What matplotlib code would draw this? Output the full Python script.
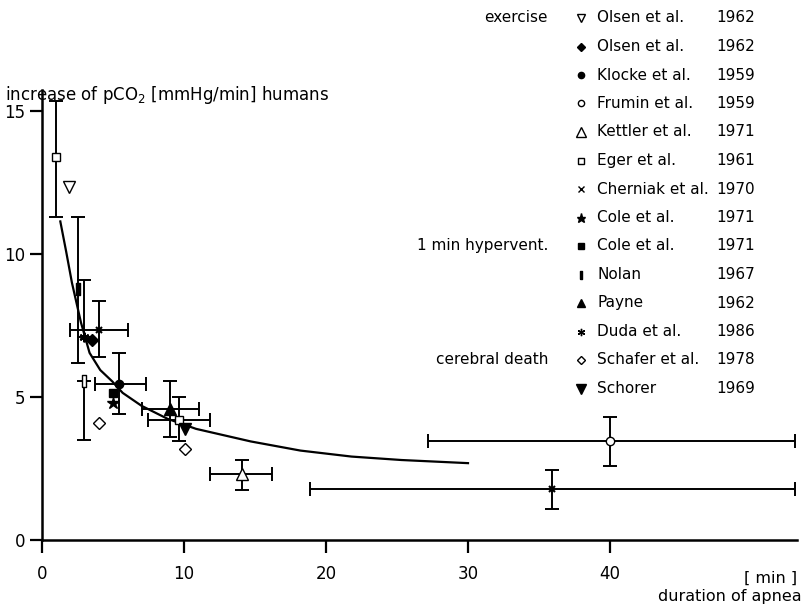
import numpy as np
import matplotlib

matplotlib.use("Agg")
import matplotlib.pyplot as plt
from matplotlib.lines import Line2D

plt.rcParams["font.family"] = ["DejaVu Sans"]

# Data (duration of apnea [min], increase of pCO2 [mmHg/min])
study = ["eger", "olsen_ex", "nolan", "duda", "olsen", "cherniak", "nolan_open",
         "schafer", "klocke", "cole_sq", "cole_star", "payne", "eger", "schorer",
         "schafer", "kettler", "frumin", "cherniak"]
px = [1.0, 1.9, 2.5, 2.95, 3.55, 4.0, 2.95, 4.0, 5.45, 5.0, 5.0, 9.0, 9.65,
      10.1, 10.05, 14.1, 40.0, 35.9]
py = [13.4, 12.35, 8.8, 7.1, 7.0, 7.35, 5.55, 4.1, 5.47, 5.15, 4.78, 4.57, 4.2,
      3.9, 3.2, 2.3, 3.45, 1.78]
# error bar ends (NaN = none)
y_lo = [11.3, np.nan, 6.2, 7.1, np.nan, 6.4, 3.5, np.nan, 4.4, np.nan, np.nan,
        3.6, 3.45, np.nan, np.nan, 1.75, 2.6, 1.1]
y_hi = [15.35, np.nan, 11.3, 9.1, np.nan, 8.35, 5.55, np.nan, 6.55, np.nan,
        np.nan, 5.55, 5.0, np.nan, np.nan, 2.8, 4.3, 2.45]
x_lo = [np.nan, np.nan, np.nan, np.nan, np.nan, 2.0, np.nan, np.nan, 3.7, np.nan,
        np.nan, 7.05, 7.45, np.nan, np.nan, 11.85, 27.2, 18.9]
x_hi = [np.nan, np.nan, np.nan, np.nan, np.nan, 6.05, np.nan, np.nan, 7.3, np.nan,
        np.nan, 11.05, 11.85, np.nan, np.nan, 16.2, 53.0, 53.0]

# fitted curve, read as points
curve_x = [1.29, 1.7, 2.11, 2.75, 3.35, 4.1, 4.95, 5.68, 7.0, 8.85, 10.85, 14.7,
           18.2, 21.8, 25.3, 30.0]
curve_y = [11.15, 10.1, 9.0, 7.6, 6.55, 5.95, 5.55, 5.15, 4.7, 4.24, 3.89, 3.45,
           3.13, 2.92, 2.8, 2.69]

# legend
leg_keys = ["olsen_ex", "olsen", "klocke", "frumin", "kettler", "eger",
            "cherniak", "cole_star", "cole_sq", "nolan", "payne", "duda",
            "schafer", "schorer"]
leg_names = ["Olsen et al.", "Olsen et al.", "Klocke et al.", "Frumin et al.",
             "Kettler et al.", "Eger et al.", "Cherniak et al.", "Cole et al.",
             "Cole et al.", "Nolan", "Payne", "Duda et al.", "Schafer et al.",
             "Schorer"]
leg_years = ["1962", "1962", "1959", "1959", "1971", "1961", "1970", "1971",
             "1971", "1967", "1962", "1986", "1978", "1969"]
leg_groups = {0: "exercise", 8: "1 min hypervent.", 12: "cerebral death"}

thin_rect = [(-0.35, -1), (0.35, -1), (0.35, 1), (-0.35, 1), (-0.35, -1)]
styles = {
    "olsen_ex": dict(marker="v", mfc="white", ms=8),
    "olsen": dict(marker="D", mfc="black", ms=6),
    "klocke": dict(marker="o", mfc="black", ms=6),
    "frumin": dict(marker="o", mfc="white", ms=6),
    "kettler": dict(marker="^", mfc="white", ms=9),
    "eger": dict(marker="s", mfc="white", ms=6),
    "cherniak": dict(marker="x", mfc="black", ms=5),
    "cole_star": dict(marker="*", mfc="black", ms=9),
    "cole_sq": dict(marker="s", mfc="black", ms=6),
    "nolan": dict(marker=thin_rect, mfc="black", ms=8),
    "nolan_open": dict(marker=thin_rect, mfc="white", ms=8),
    "payne": dict(marker="^", mfc="black", ms=8),
    "duda": dict(marker=(6, 2, 0), mfc="black", ms=7),
    "schafer": dict(marker="D", mfc="white", ms=6),
    "schorer": dict(marker="v", mfc="black", ms=9),
}

W, H = 805, 605
fig = plt.figure(figsize=(W / 100, H / 100), dpi=100)
x0, y0 = 42, 540
xs, ys = 14.2, 28.57
xmax, ymax = 53.2, 15.75
ax = fig.add_axes([x0 / W, 1 - y0 / H, xmax * xs / W, ymax * ys / H])
ax.set_xlim(0, xmax)
ax.set_ylim(0, ymax)

for s in ["top", "right"]:
    ax.spines[s].set_visible(False)
for s in ["left", "bottom"]:
    ax.spines[s].set_linewidth(1.8)
ax.set_xticks([0, 10, 20, 30, 40])
ax.set_yticks([0, 5, 10, 15])
ax.tick_params(direction="out", length=9, width=1.6, labelsize=12)
ax.tick_params(axis="x", pad=9)
ax.tick_params(axis="y", pad=3)

ax.plot(curve_x, curve_y, color="black", lw=1.6, zorder=1)

for i, k in enumerate(study):
    st = styles[k]
    lw = 1.5 if k in ("cherniak", "duda") else 1.0
    xe = None
    ye = None
    if not np.isnan(x_lo[i]):
        xe = [[px[i] - x_lo[i]], [x_hi[i] - px[i]]]
    if not np.isnan(y_lo[i]):
        ye = [[py[i] - y_lo[i]], [y_hi[i] - py[i]]]
    ax.errorbar(px[i], py[i], xerr=xe, yerr=ye, fmt="none", ecolor="black",
                elinewidth=1.4, capsize=5, capthick=1.4, zorder=2)
    ax.plot(px[i], py[i], linestyle="none", marker=st["marker"],
            markerfacecolor=st["mfc"], markeredgecolor="black", markersize=st["ms"],
            markeredgewidth=lw, zorder=3, clip_on=False)

# legend drawn as text
fs = 11
for i, k in enumerate(leg_keys):
    yy = 1 - (18 + 28.5 * i) / H
    st = styles[k]
    fig.add_artist(Line2D([581 / W], [yy], linestyle="none", marker=st["marker"],
                          markerfacecolor=st["mfc"], markeredgecolor="black",
                          markersize=st["ms"] * 0.75, markeredgewidth=1.0))
    fig.text(597 / W, yy, leg_names[i], fontsize=fs, va="center", ha="left")
    fig.text(716 / W, yy, leg_years[i], fontsize=fs, va="center", ha="left")
    if i in leg_groups:
        fig.text(548 / W, yy, leg_groups[i], fontsize=fs, va="center", ha="right")

fig.text(5 / W, 1 - 100 / H, "increase of pCO$_2$ [mmHg/min] humans",
         fontsize=12, va="baseline", ha="left")
fig.text(797 / W, 1 - 578 / H, "[ min ]", fontsize=11.5, va="center", ha="right")
fig.text(802 / W, 1 - 596 / H, "duration of apnea", fontsize=11.5, va="center",
         ha="right")

fig.savefig("out.png", dpi=100)
